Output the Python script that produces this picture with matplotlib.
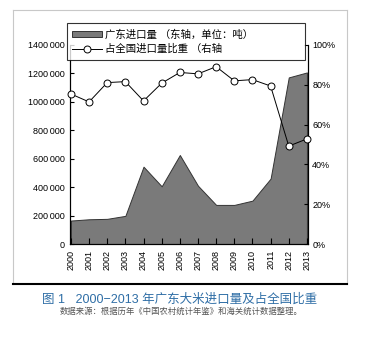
import matplotlib
matplotlib.use('Agg')
import matplotlib.pyplot as plt
from matplotlib.lines import Line2D
from matplotlib.patches import Patch

plt.rcParams['font.family'] = ['Liberation Sans', 'Noto Sans CJK SC', 'DejaVu Sans']

# rice imports of Guangdong (tonnes) and share of national imports
years = list(range(2000, 2014))
imports = [165000, 174000, 177000, 198000, 544000, 406000, 626000,
           410000, 275000, 275000, 305000, 460000, 1172000, 1207000]
share = [0.754, 0.714, 0.811, 0.816, 0.719, 0.808, 0.862,
         0.855, 0.891, 0.820, 0.826, 0.794, 0.492, 0.528]

left_ticks = list(range(0, 1400001, 200000))
left_labels = ['0' if v == 0 else f'{v // 1000}\u2009000' for v in left_ticks]
right_ticks = [0, 0.2, 0.4, 0.6, 0.8, 1.0]
right_labels = ['0%', '20%', '40%', '60%', '80%', '100%']

W, H = 375, 338
fig = plt.figure(figsize=(W / 100, H / 100), dpi=100)
ax = fig.add_axes([70 / W, (H - 244) / H, (308 - 70) / W, (244 - 45) / H])

ax.fill_between(years, 0, imports, facecolor='#7a7a7a', edgecolor='#333333', lw=0.7)
ax.set_xlim(1999.95, 2013.06)
ax.set_ylim(0, 1400000)
ax.set_yticks(left_ticks)
ax.set_yticklabels(left_labels)
ax.set_xticks(years)
ax.set_xticklabels([str(y) for y in years], rotation=90)
ax.tick_params(axis='y', direction='in', length=3, labelsize=6.5, pad=4)
ax.tick_params(axis='x', direction='in', length=4, labelsize=6.5, pad=4)
ax.spines['top'].set_visible(False)

ax2 = ax.twinx()
ax2.plot(years, share, '-o', color='black', lw=0.7, ms=5, mfc='white',
         mec='black', mew=0.7, clip_on=False, zorder=5)
ax2.set_ylim(0, 1.0)
ax2.set_yticks(right_ticks)
ax2.set_yticklabels(right_labels)
ax2.tick_params(axis='y', direction='in', length=3, labelsize=6.5, pad=3)
ax2.spines['top'].set_visible(False)
for a in (ax, ax2):
    for s in a.spines.values():
        s.set_linewidth(0.8)

handles = [Patch(facecolor='#7a7a7a', edgecolor='#333333', lw=0.7),
           Line2D([], [], color='black', lw=0.7, marker='o', ms=5,
                  mfc='white', mec='black', mew=0.7)]
labels = ['广东进口量 （东轴，单位：吨）', '占全国进口量比重 （右轴']
leg = fig.legend(handles, labels, loc='upper left',
                 bbox_to_anchor=(66.7 / W, 1 - 23.3 / H, (305 - 66.7) / W, 0.0),
                 mode='expand', borderaxespad=0, fontsize=7.5, frameon=True,
                 fancybox=False, handlelength=2.8, handleheight=0.5,
                 handletextpad=0.3, labelspacing=0.45, borderpad=0.55)
leg.get_frame().set_edgecolor('black')
leg.get_frame().set_linewidth(0.8)

# frame around the figure block
gray = '#c8c8c8'
fig.add_artist(Line2D([13 / W, 13 / W], [1 - 10 / H, 1 - 284 / H], color=gray, lw=0.8))
fig.add_artist(Line2D([347 / W, 347 / W], [1 - 10 / H, 1 - 284 / H], color=gray, lw=0.8))
fig.add_artist(Line2D([13 / W, 347 / W], [1 - 10 / H, 1 - 10 / H], color=gray, lw=0.8))
fig.add_artist(Line2D([13 / W, 347 / W], [1 - 284 / H, 1 - 284 / H], color='black', lw=1.5))

fig.text(180 / W, 1 - 300 / H, '图 1   2000−2013 年广东大米进口量及占全国比重',
         color='#2f6ea6', fontsize=9, ha='center', va='center')
fig.text(181 / W, 1 - 311.5 / H, '数据来源：根据历年《中国农村统计年鉴》和海关统计数据整理。',
         color='#555555', fontsize=6, ha='center', va='center')

fig.savefig('out.png', dpi=100)
